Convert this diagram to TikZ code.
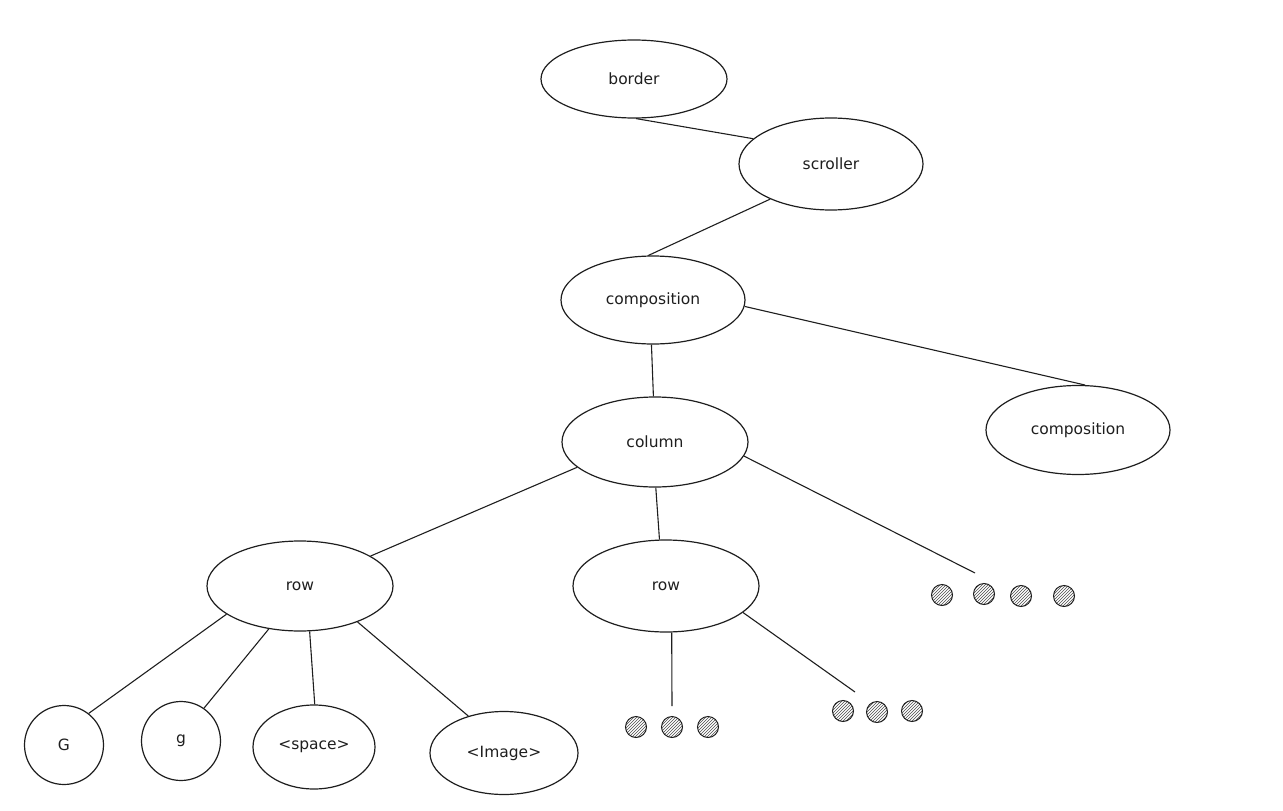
\documentclass[tikz,border=0pt]{standalone}
\usepackage{fontspec}
\setmainfont{DejaVu Sans}
\usetikzlibrary{shapes.geometric,patterns}
\definecolor{ink}{HTML}{1E1E1E}
\begin{document}
\begin{tikzpicture}[x=1pt,y=-1pt,
  oval/.style={ellipse,draw=ink,line width=1.2pt,inner sep=0pt,font=\fontsize{15.5}{17}\selectfont,text=ink},
  leaf/.style={circle,draw=ink,line width=1.2pt,inner sep=0pt,font=\fontsize{15.5}{17}\selectfont,text=ink},
  dot/.style={circle,draw=ink,line width=1pt,minimum size=21pt,inner sep=0pt,pattern=north east lines,pattern color=ink!80},
  link/.style={draw=ink,line width=1.1pt}]
\useasboundingbox (0,0) rectangle (1283,811);
\node[oval,minimum width=186pt,minimum height=78pt] (border) at (634,79) {border};
\node[oval,minimum width=184pt,minimum height=92pt] (scroller) at (831,164) {scroller};
\node[oval,minimum width=184pt,minimum height=88pt] (comp1) at (653,300) {composition};
\node[oval,minimum width=184pt,minimum height=89pt] (comp2) at (1078,430) {composition};
\node[oval,minimum width=186pt,minimum height=90pt] (column) at (655,442) {column};
\node[oval,minimum width=186pt,minimum height=90pt] (row1) at (300,586) {row};
\node[oval,minimum width=186pt,minimum height=92pt] (row2) at (666,586) {row};
\node[leaf,minimum size=79pt] (G) at (64,745) {G};
\node[leaf,minimum size=79pt] (g) at (181,741) {g};
\node[oval,minimum width=122pt,minimum height=84pt] (space) at (314,747) {<space>};
\node[oval,minimum width=148pt,minimum height=83pt] (image) at (504,753) {<Image>};
% dots
\node[dot] (d1) at (942,595) {};
\node[dot] (d2) at (984,594) {};
\node[dot] (d3) at (1021,596) {};
\node[dot] (d4) at (1064,596) {};
\node[dot] (e1) at (636,727) {};
\node[dot] (e2) at (672,727) {};
\node[dot] (e3) at (708,727) {};
\node[dot] (f1) at (843,711) {};
\node[dot] (f2) at (877,712) {};
\node[dot] (f3) at (912,711) {};
\coordinate (cd) at (975,573);
\coordinate (ce) at (672,706);
\coordinate (cf) at (855,692);
% links
\draw[link] (border.-87) -- (scroller.162);
\draw[link] (scroller.210) -- (comp1.96);
\draw[link] (comp1.-92) -- (column.92);
\draw[link] (comp1.-4) -- (comp2.81);
\draw[link] (column.198) -- (row1.23);
\draw[link] (column.-89) -- (row2.98);
\draw[link] (column.-9) -- (cd);
\draw[link] (row1.201) -- (G.52);
\draw[link] (row1.234) -- (g.55);
\draw[link] (row1.-78) -- (space.89);
\draw[link] (row1.-32) -- (image.134);
\draw[link] (row2.-83) -- (ce);
\draw[link] (row2.-19) -- (cf);
\end{tikzpicture}
\end{document}
